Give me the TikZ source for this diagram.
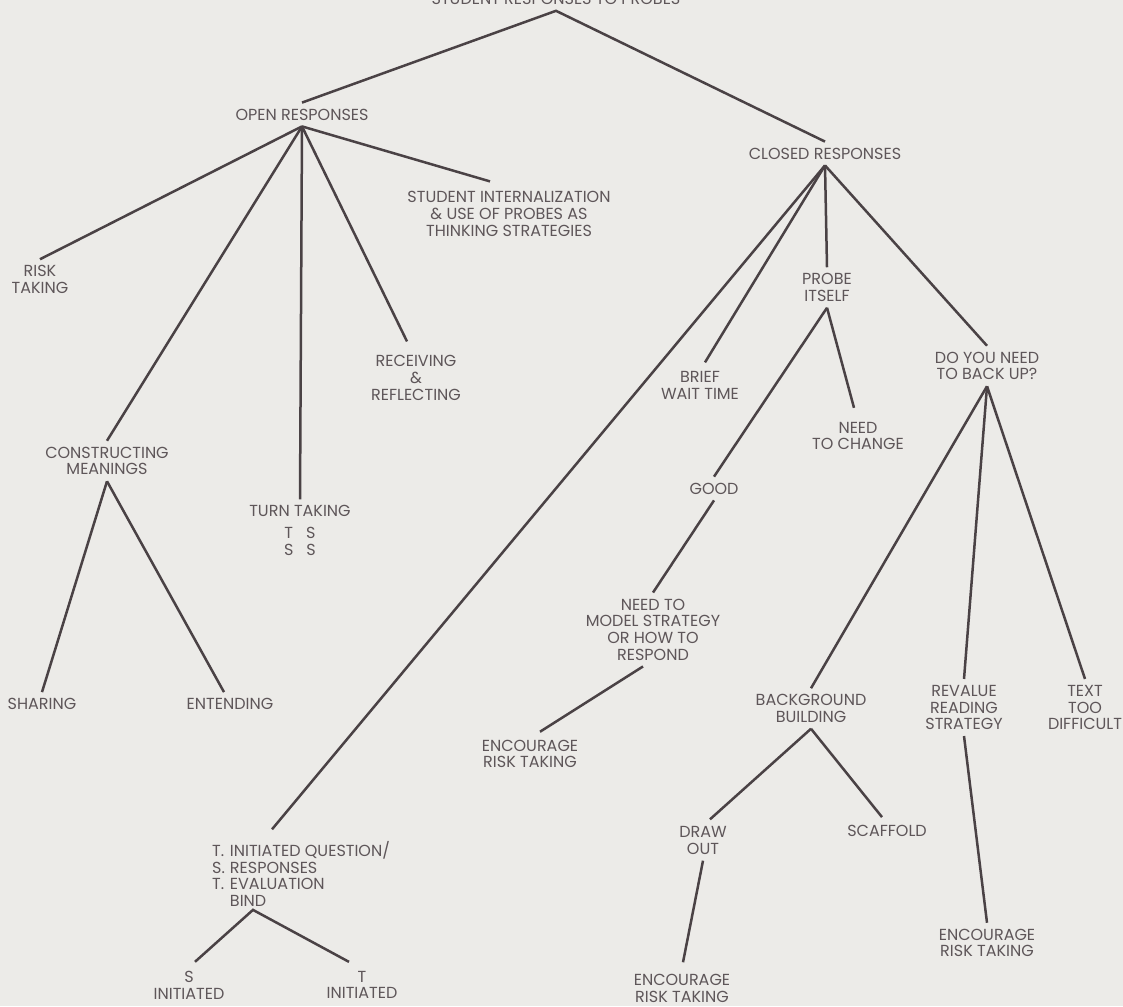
\documentclass[tikz,border=0pt]{standalone}
\usepackage{fontspec}
\setmainfont{Poppins}
\usetikzlibrary{calc}
\definecolor{paper}{HTML}{ECEBE8}
\definecolor{ink}{HTML}{4A4245}
\definecolor{txt}{HTML}{5E5659}
\begin{document}
\begin{tikzpicture}[x=1pt,y=-1pt,
  lbl/.style={font=\fontsize{16}{16.7}\selectfont, align=center, inner xsep=0pt, inner ysep=6pt, text=txt},
  edge/.style={draw=ink, line width=2.5pt}]
\fill[paper] (0,0) rectangle (1123,1006);
\useasboundingbox (0,0) rectangle (1123,1006);

% nodes
\node[lbl, anchor=base] (root) at (556,4.5) {STUDENT RESPONSES TO PROBES};
\node[lbl] (open) at (302,114.5) {OPEN RESPONSES};
\node[lbl] (closed) at (825,153.5) {CLOSED RESPONSES};

\node[lbl] (risk) at (40,279.5) {RISK\\TAKING};
\node[lbl] (constr) at (107,461) {CONSTRUCTING\\MEANINGS};
\node[lbl] (turn) at (300,530.5) {TURN TAKING\\[5.3pt]T\hspace{13pt}S\\S\hspace{13pt}S};
\node[lbl] (recv) at (416,378) {RECEIVING\\\&\\REFLECTING};
\node[lbl] (student) at (509,214) {STUDENT INTERNALIZATION\\\& USE OF PROBES AS\\THINKING STRATEGIES};
\node[lbl] (sharing) at (42,704) {SHARING};
\node[lbl] (entend) at (230,704) {ENTENDING};

\node[lbl, align=left, inner ysep=0pt, anchor=north west] (tq) at (212,841.3)
  {\begin{tabular}{@{}l@{\hspace{5pt}}l@{}}T.&INITIATED QUESTION/\\S.&RESPONSES\\T.&EVALUATION\\&BIND\end{tabular}};
\node[lbl] (sinit) at (189,985) {S\\INITIATED};
\node[lbl] (tinit) at (362,985) {T\\INITIATED};

\node[lbl] (brief) at (700,385.5) {BRIEF\\WAIT TIME};
\node[lbl] (probe) at (827,287.5) {PROBE\\ITSELF};
\node[lbl] (change) at (858,436) {NEED\\TO CHANGE};
\node[lbl] (good) at (714,488.5) {GOOD};
\node[lbl] (model) at (653,629.5) {NEED TO\\MODEL STRATEGY\\OR HOW TO\\RESPOND};
\node[lbl] (enca) at (530,754) {ENCOURAGE\\RISK TAKING};

\node[lbl] (backup) at (987,366) {DO YOU NEED\\TO BACK UP?};
\node[lbl] (bg) at (811,708.5) {BACKGROUND\\BUILDING};
\node[lbl] (reval) at (964,707.5) {REVALUE\\READING\\STRATEGY};
\node[lbl] (textd) at (1085,707.5) {TEXT\\TOO\\DIFFICULT};
\node[lbl] (drawout) at (703,840.5) {DRAW\\OUT};
\node[lbl] (scaff) at (887,831) {SCAFFOLD};
\node[lbl] (encb) at (682,988.5) {ENCOURAGE\\RISK TAKING};
\node[lbl] (encc) at (987,943) {ENCOURAGE\\RISK TAKING};

% connectors
\draw[edge] (open.north) -- (root.south) -- (closed.north);

\draw[edge] (open.south) -- (risk.north);
\draw[edge] (open.south) -- (constr.north);
\draw[edge] (open.south) -- (turn.north);
\draw[edge] (open.south) -- ($(recv.north)+(-9,-8)$);
\draw[edge] (open.south) -- ($(student.north)+(-19,-4)$);

\draw[edge] (constr.south) -- (sharing.north);
\draw[edge] (constr.south) -- ($(entend.north)+(-6,0)$);

\draw[edge] (closed.south) -- ($(tq.north west)+(60,-12)$);
\draw[edge] ($(sinit.north)+(6,-3)$) -- ($(tq.south west)+(41,-2)$) -- ($(tinit.north)+(-13,-3)$);

\draw[edge] (closed.south) -- ($(brief.north)+(5,-3)$);
\draw[edge] (closed.south) -- (probe.north);
\draw[edge] (closed.south) -- (backup.north);

\draw[edge] (probe.south) -- (good.north);
\draw[edge] (probe.south) -- ($(change.north)+(-4,-8)$);
\draw[edge] (good.south) -- (model.north);
\draw[edge] ($(model.south)+(-10,0)$) -- ($(enca.north)+(10,-2)$);

\draw[edge] (backup.south) -- (bg.north);
\draw[edge] (backup.south) -- (reval.north);
\draw[edge] (backup.south) -- (textd.north);

\draw[edge] (bg.south) -- ($(drawout.north)+(7,-1)$);
\draw[edge] (bg.south) -- ($(scaff.north)+(-5,-2)$);
\draw[edge] (drawout.south) -- ($(encb.north)+(1,-6)$);
\draw[edge] (reval.south) -- (encc.north);
\end{tikzpicture}
\end{document}
